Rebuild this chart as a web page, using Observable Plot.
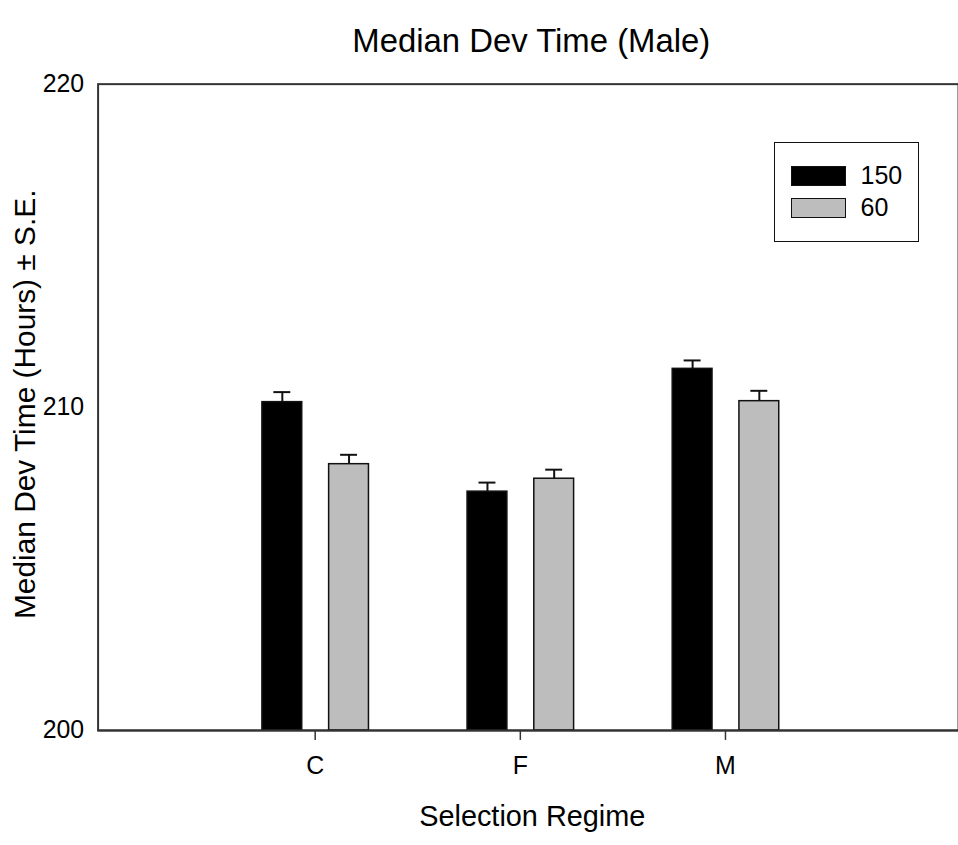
<!DOCTYPE html>
<html>
<head>
<meta charset="utf-8">
<script src="https://cdn.jsdelivr.net/npm/d3@7"></script>
<script src="https://cdn.jsdelivr.net/npm/@observablehq/plot@0.6"></script>
<style>
  html, body { margin: 0; padding: 0; background: #fff; overflow: hidden; }
  #wrap { position: relative; width: 958px; height: 845px; overflow: hidden; font-family: "Liberation Sans", Arial, sans-serif; }
  #legend { position: absolute; left: 773.5px; top: 142px; width: 145px; height: 100px; box-sizing: border-box; border: 1.5px solid #111; background: #fff; }
  .sw { position: absolute; left: 16.5px; width: 55px; height: 20px; box-sizing: border-box; border: 1.5px solid #111; }
  .lt { position: absolute; left: 86px; font-size: 25px; line-height: 25px; color: #000; }
</style>
</head>
<body>
<div id="wrap"><div id="chart"></div><div id="legend"></div></div>
<script>
// ---- data ----
const regimes = ["C", "F", "M"];
const seriesNames = ["150", "60"];
const mean150 = [210.16, 207.39, 211.19];
const se150   = [0.31, 0.28, 0.26];
const mean60  = [208.24, 207.79, 210.19];
const se60    = [0.29, 0.28, 0.32];
const yDomain = [200, 220];
const yTicks  = [200, 210, 220];
const colors  = ["#000000", "#bdbdbd"];

const titleText = "Median Dev Time (Male)";
const xLabel = "Selection Regime";
const yLabel = "Median Dev Time (Hours) \u00b1 S.E.";

const d150 = regimes.map((r, i) => ({regime: r, value: mean150[i], se: se150[i]}));
const d60  = regimes.map((r, i) => ({regime: r, value: mean60[i],  se: se60[i]}));

const step = 207, half = step / 2;
const off150 = -33, off60 = 34, barW = 41, capW = 18;

const plot = Plot.plot({
  width: 962,
  height: 845,
  marginLeft: 98,
  marginRight: 0,
  marginTop: 84,
  marginBottom: 112,
  style: {fontFamily: "'Liberation Sans', Arial, sans-serif", fontSize: "25px", color: "#000", background: "#fff", overflow: "visible"},
  x: {domain: regimes, paddingInner: 0, paddingOuter: 0.587, align: 0.467, label: null},
  y: {domain: yDomain, label: null},
  marks: [
    Plot.frame({stroke: "#333", strokeWidth: 2}),
    // bars
    Plot.barY(d150, {x: "regime", y1: yDomain[0], y2: "value", fill: colors[0], stroke: "#111", strokeWidth: 1.5,
      insetLeft: half + off150 - barW / 2, insetRight: half - off150 - barW / 2}),
    Plot.barY(d60, {x: "regime", y1: yDomain[0], y2: "value", fill: colors[1], stroke: "#111", strokeWidth: 1.5,
      insetLeft: half + off60 - barW / 2, insetRight: half - off60 - barW / 2}),
    // error bars
    Plot.ruleX(d150, {x: "regime", y1: "value", y2: d => d.value + d.se, dx: off150, stroke: "#111", strokeWidth: 2}),
    Plot.ruleX(d60, {x: "regime", y1: "value", y2: d => d.value + d.se, dx: off60, stroke: "#111", strokeWidth: 2}),
    Plot.tickY(d150, {x: "regime", y: d => d.value + d.se, stroke: "#111", strokeWidth: 2,
      insetLeft: half + off150 - capW / 2, insetRight: half - off150 - capW / 2}),
    Plot.tickY(d60, {x: "regime", y: d => d.value + d.se, stroke: "#111", strokeWidth: 2,
      insetLeft: half + off60 - capW / 2, insetRight: half - off60 - capW / 2}),
    Plot.ruleY([yDomain[0]], {stroke: "#333", strokeWidth: 2}),
    // axes
    Plot.axisY({ticks: yTicks, tickSize: 0, tickPadding: 14, fontSize: 25, label: null}),
    Plot.axisX({tickSize: 10, tickPadding: 16, fontSize: 25, label: null, stroke: "#333", strokeWidth: 1.5}),
    // texts
    Plot.text([titleText], {frameAnchor: "top", lineAnchor: "middle", textAnchor: "middle", dx: 3, dy: -43, fontSize: 33, fill: "#000"}),
    Plot.text([xLabel], {frameAnchor: "bottom", lineAnchor: "middle", textAnchor: "middle", dx: 4, dy: 87, fontSize: 29, fill: "#000"}),
    Plot.text([yLabel], {frameAnchor: "left", lineAnchor: "middle", textAnchor: "middle", dx: -73, dy: -3, rotate: -90, fontSize: 30, fill: "#000"})
  ]
});
document.getElementById("chart").appendChild(plot);

// legend
const legend = document.getElementById("legend");
const swTops = [22.5, 55];
const txTops = [19.5, 52];
seriesNames.forEach((name, i) => {
  const sw = document.createElement("div");
  sw.className = "sw";
  sw.style.top = swTops[i] + "px";
  sw.style.background = colors[i];
  legend.appendChild(sw);
  const t = document.createElement("div");
  t.className = "lt";
  t.style.top = txTops[i] + "px";
  t.textContent = name;
  legend.appendChild(t);
});
</script>
</body>
</html>
